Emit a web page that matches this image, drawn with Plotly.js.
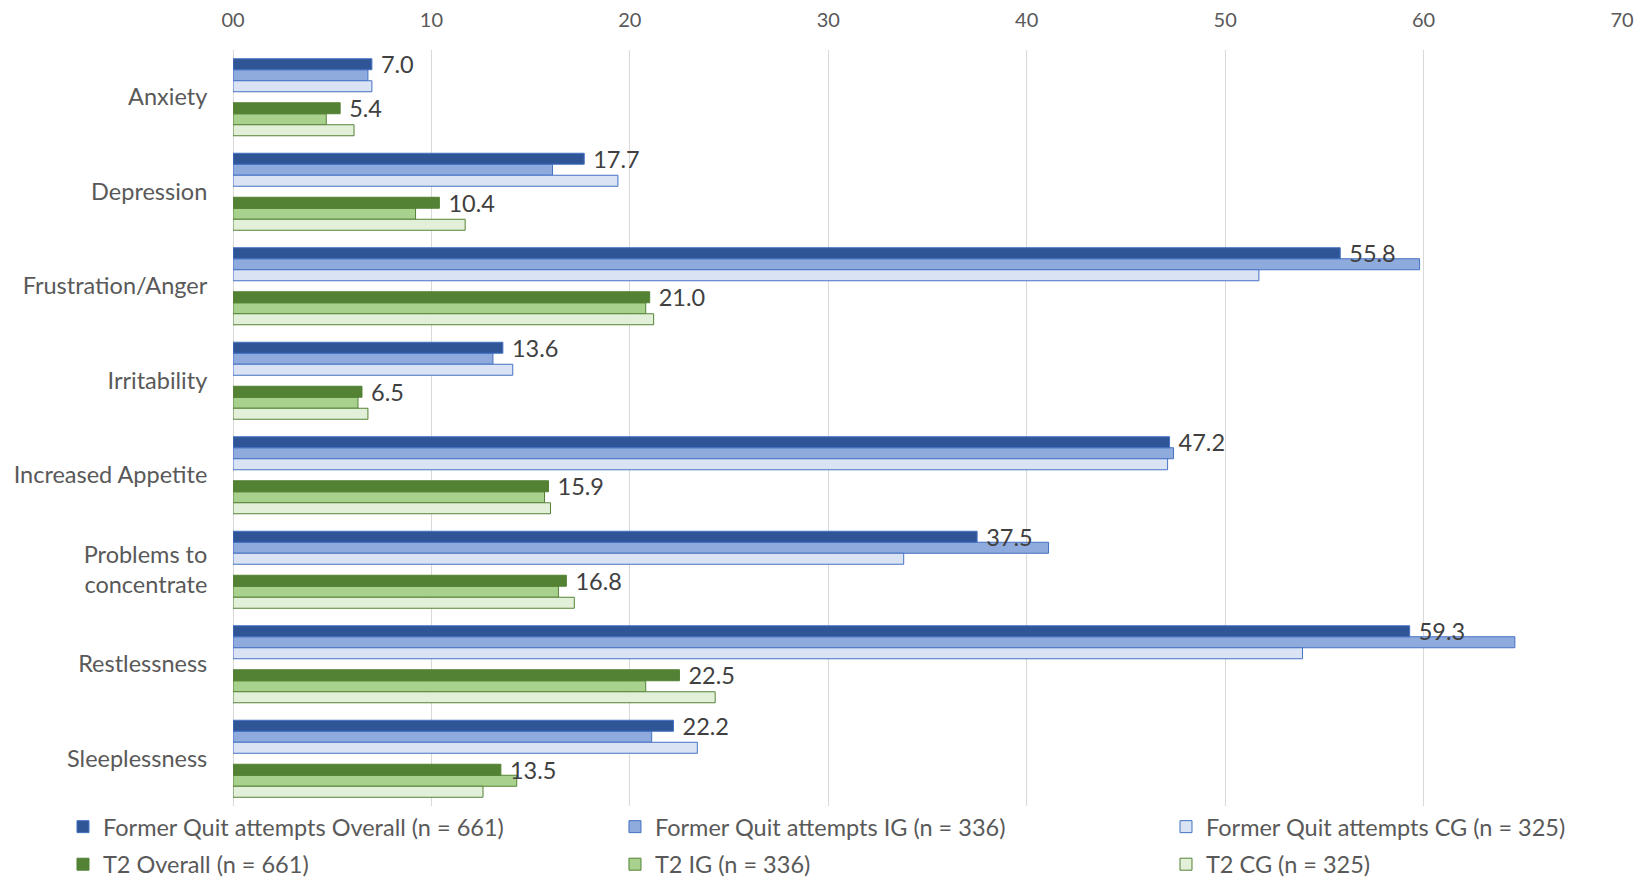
<!DOCTYPE html>
<html>
<head>
<meta charset="utf-8">
<script src="https://cdn.plot.ly/plotly-3.0.1.min.js"></script>
<style>html,body{margin:0;padding:0;background:#fff;}#chart{width:1643px;height:878px;}</style>
</head>
<body>
<div id="chart"></div>
<script>
// ---- data ----
const categories = ['Anxiety','Depression','Frustration/Anger','Irritability','Increased Appetite','Problems to<br>concentrate','Restlessness','Sleeplessness'];
const formerOverall = [7.0, 17.7, 55.8, 13.6, 47.2, 37.5, 59.3, 22.2];
const formerIG      = [6.8, 16.1, 59.8, 13.1, 47.4, 41.1, 64.6, 21.1];
const formerCG      = [7.0, 19.4, 51.7, 14.1, 47.1, 33.8, 53.9, 23.4];
const t2Overall     = [5.4, 10.4, 21.0, 6.5, 15.9, 16.8, 22.5, 13.5];
const t2IG          = [4.7, 9.2, 20.8, 6.3, 15.7, 16.4, 20.8, 14.3];
const t2CG          = [6.1, 11.7, 21.2, 6.8, 16.0, 17.2, 24.3, 12.6];
const seriesNames = ['Former Quit attempts Overall (n = 661)','Former Quit attempts IG (n = 336)','Former Quit attempts CG (n = 325)','T2 Overall (n = 661)','T2 IG (n = 336)','T2 CG (n = 325)'];
const xTickVals = [0,10,20,30,40,50,60,70];
const xTickText = ['00','10','20','30','40','50','60','70'];

const FONT = 'Lato, "Open Sans", sans-serif';
const TXT = 23.5;
const blueLine = '#4472C4', greenLine = '#548235';

function bar(name, vals, fill, line, legend, showLabel, slot, rank) {
  const t = {
    type: 'bar', orientation: 'h', name: name, x: vals, y: categories,
    offsetgroup: slot,
    marker: {color: fill, line: {color: line, width: 1}},
    legend: legend, legendgroup: 'lg' + rank, legendrank: rank, cliponaxis: false,
    hoverinfo: 'x+name'
  };
  if (showLabel) {
    t.texttemplate = '\u00a0%{x:.1f}';
    t.textposition = 'outside';
    t.constraintext = 'none';
    t.textfont = {family: FONT, size: TXT, color: '#404040'};
  } else {
    t.textposition = 'none';
  }
  return t;
}
// invisible placeholder that only reserves a slot position in each category
function slotHolder(slot) {
  return {
    type: 'bar', orientation: 'h', x: categories.map(() => 0), y: categories, offsetgroup: slot,
    marker: {color: 'rgba(0,0,0,0)', line: {width: 0}}, showlegend: false, hoverinfo: 'skip',
    textposition: 'none'
  };
}

const data = [
  slotHolder('s1'),
  bar(seriesNames[1], formerIG, '#8FAADC', blueLine, 'legend2', false, 's2', 2),
  bar(seriesNames[2], formerCG, '#DAE3F3', blueLine, 'legend3', false, 's3', 3),
  slotHolder('s4'),
  slotHolder('s5'),
  bar(seriesNames[4], t2IG, '#A9D18E', greenLine, 'legend2', false, 's6', 5),
  bar(seriesNames[5], t2CG, '#E2F0D9', greenLine, 'legend3', false, 's7', 6),
  // overall series drawn last so their value labels sit on top
  bar(seriesNames[0], formerOverall, '#2F5597', blueLine, 'legend', true, 's1', 1),
  bar(seriesNames[3], t2Overall, '#548235', greenLine, 'legend', true, 's5', 4)
];

const legendBase = {
  orientation: 'v', yanchor: 'top', xanchor: 'left', y: 0.0015,
  font: {family: FONT, size: TXT, color: '#595959'},
  tracegroupgap: 4, bgcolor: 'rgba(0,0,0,0)', borderwidth: 0
};

const layout = {
  width: 1643, height: 878,
  margin: {l: 233, r: 21, t: 50, b: 72, autoexpand: false},
  paper_bgcolor: '#fff', plot_bgcolor: '#fff',
  barmode: 'group', bargap: 0.185, bargroupgap: 0,
  font: {family: FONT, color: '#595959'},
  xaxis: {
    side: 'top', range: [0, 70], tickvals: xTickVals, ticktext: xTickText,
    showgrid: true, gridcolor: '#D9D9D9', gridwidth: 1,
    zeroline: true, zerolinecolor: '#D9D9D9', zerolinewidth: 1,
    showline: false, ticks: 'outside', ticklen: 14, tickcolor: 'rgba(0,0,0,0)',
    tickfont: {family: FONT, size: 20, color: '#595959'}, fixedrange: true
  },
  yaxis: {
    type: 'category', autorange: 'reversed', showgrid: false, zeroline: false, showline: false,
    ticks: 'outside', ticklen: 20, tickcolor: 'rgba(0,0,0,0)',
    tickfont: {family: FONT, size: TXT, color: '#595959'}, fixedrange: true
  },
  legend: Object.assign({}, legendBase, {x: -0.1224}),
  legend2: Object.assign({}, legendBase, {x: 0.275}),
  legend3: Object.assign({}, legendBase, {x: 0.6717}),
  showlegend: true
};

Plotly.newPlot('chart', data, layout, {displayModeBar: false, staticPlot: true});
</script>
</body>
</html>
